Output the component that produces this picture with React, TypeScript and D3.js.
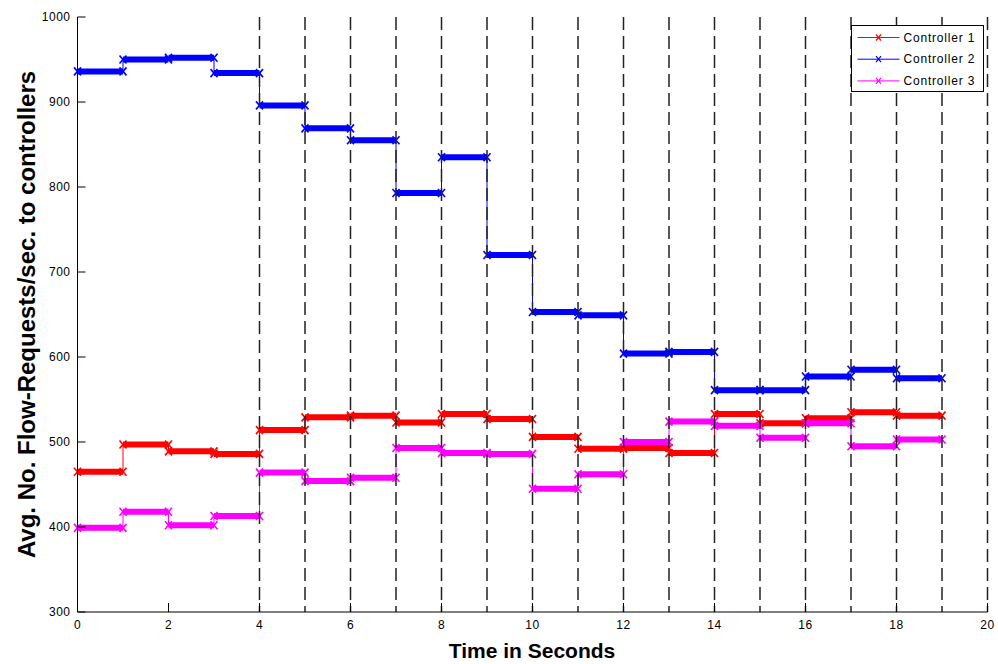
import React from 'react'
import * as d3 from 'd3'

const width = 998
const height = 664
const margin = { top: 17, right: 10.5, bottom: 52, left: 77.5 }

// one value per second, held from t to t+1
const times = d3.range(0, 19)
const controller1 = [465, 497, 489, 486, 514, 529, 531, 523, 533, 527, 506, 492, 493, 487, 533, 522, 528, 535, 531]
const controller2 = [936, 950, 952, 934, 896, 869, 855, 793, 835, 720, 653, 649, 604, 606, 561, 561, 577, 585, 575]
const controller3 = [399, 418, 402, 413, 464, 454, 458, 493, 487, 486, 445, 462, 500, 524, 519, 505, 522, 495, 503]

const seriesNames = ['Controller 1', 'Controller 2', 'Controller 3']
const seriesColors = ['#ff0000', '#0000ff', '#ff00ff']
const xTicks = d3.range(0, 21, 2)
const yTicks = [300, 400, 500, 600, 700, 800, 900, 1000]
const dashedAt = d3.range(4, 21)

const xScale = d3
  .scaleLinear()
  .domain([0, 20])
  .range([margin.left, width - margin.right])

const yScale = d3
  .scaleLinear()
  .domain([300, 1000])
  .range([height - margin.bottom, margin.top])

const stairLine = d3
  .line<[number, number]>()
  .x(d => xScale(d[0]))
  .y(d => yScale(d[1]))
  .curve(d3.curveStepAfter)

const XMark = ({ x, y, color, s = 3.5, w = 1.6 }: { x: number; y: number; color: string; s?: number; w?: number }) => (
  <g stroke={color} strokeWidth={w}>
    <line x1={x - s} y1={y - s - 0.5} x2={x + s} y2={y + s + 0.5} />
    <line x1={x - s} y1={y + s + 0.5} x2={x + s} y2={y - s - 0.5} />
  </g>
)

const Series = ({ values, color }: { values: number[]; color: string }) => {
  const pts: [number, number][] = times.map((t, i) => [t, values[i]])
  pts.push([19, values[values.length - 1]])
  return (
    <g>
      <path d={stairLine(pts) || ''} fill="none" stroke={color} strokeWidth={1} />
      {times.map((t, i) => (
        <g key={i}>
          <line
            x1={xScale(t)}
            x2={xScale(t + 1)}
            y1={yScale(values[i])}
            y2={yScale(values[i])}
            stroke={color}
            strokeWidth={6}
          />
          <XMark x={xScale(t)} y={yScale(values[i])} color={color} />
          <XMark x={xScale(t + 1)} y={yScale(values[i])} color={color} />
        </g>
      ))}
    </g>
  )
}

const App = () => {
  const allSeries = [controller1, controller2, controller3]
  const y0 = yScale.range()[0]
  const y1 = yScale.range()[1]
  const font = 'Liberation Sans, Arial, sans-serif'
  const lx = 851.5
  const ly = 25.5
  return (
    <svg
      width={width}
      height={height}
      style={{ position: 'absolute', left: 0, top: 0, background: '#fff' }}
      fontFamily={font}
    >
      <rect width={width} height={height} fill="#fff" />
      {allSeries.map((vals, i) => (
        <Series key={i} values={vals} color={seriesColors[i]} />
      ))}
      {dashedAt.map(t => (
        <line
          key={t}
          x1={xScale(t)}
          x2={xScale(t)}
          y1={y1}
          y2={y0}
          stroke="#222"
          strokeWidth={1.5}
          strokeDasharray="13,6"
        />
      ))}
      {/* axes */}
      <line x1={margin.left} x2={margin.left} y1={y1} y2={y0} stroke="#000" strokeWidth={1} />
      <line x1={margin.left} x2={xScale(20)} y1={y0} y2={y0} stroke="#000" strokeWidth={1} />
      {xTicks.map(t => (
        <g key={t}>
          <line x1={xScale(t)} x2={xScale(t)} y1={y0} y2={y0 - 9} stroke="#000" />
          <text x={xScale(t)} y={y0 + 17} textAnchor="middle" fontSize={12} letterSpacing={0.5}>
            {t}
          </text>
        </g>
      ))}
      {yTicks.map(v => (
        <g key={v}>
          <line x1={margin.left} x2={margin.left + 8} y1={yScale(v)} y2={yScale(v)} stroke="#000" />
          <text x={margin.left - 7} y={yScale(v) + 4} textAnchor="end" fontSize={12} letterSpacing={0.5}>
            {v}
          </text>
        </g>
      ))}
      <text x={532} y={658} textAnchor="middle" fontSize={21} fontWeight="bold">
        Time in Seconds
      </text>
      <text
        transform={`translate(35, ${(y0 + y1) / 2}) rotate(-90)`}
        textAnchor="middle"
        fontSize={24}
        fontWeight="bold"
      >
        Avg. No. Flow-Requests/sec. to controllers
      </text>
      {/* legend */}
      <rect x={lx} y={ly} width={132} height={66} fill="#fff" stroke="#000" strokeWidth={1} />
      {seriesNames.map((name, i) => {
        const yy = ly + 12 + i * 21.7
        return (
          <g key={name}>
            <line x1={lx + 6} x2={lx + 48} y1={yy} y2={yy} stroke={seriesColors[i]} strokeWidth={1} />
            <XMark x={lx + 27} y={yy} color={seriesColors[i]} s={2.5} w={1.2} />
            <text x={lx + 52} y={yy + 4} fontSize={12} letterSpacing={0.8}>
              {name}
            </text>
          </g>
        )
      })}
    </svg>
  )
}

export default App
